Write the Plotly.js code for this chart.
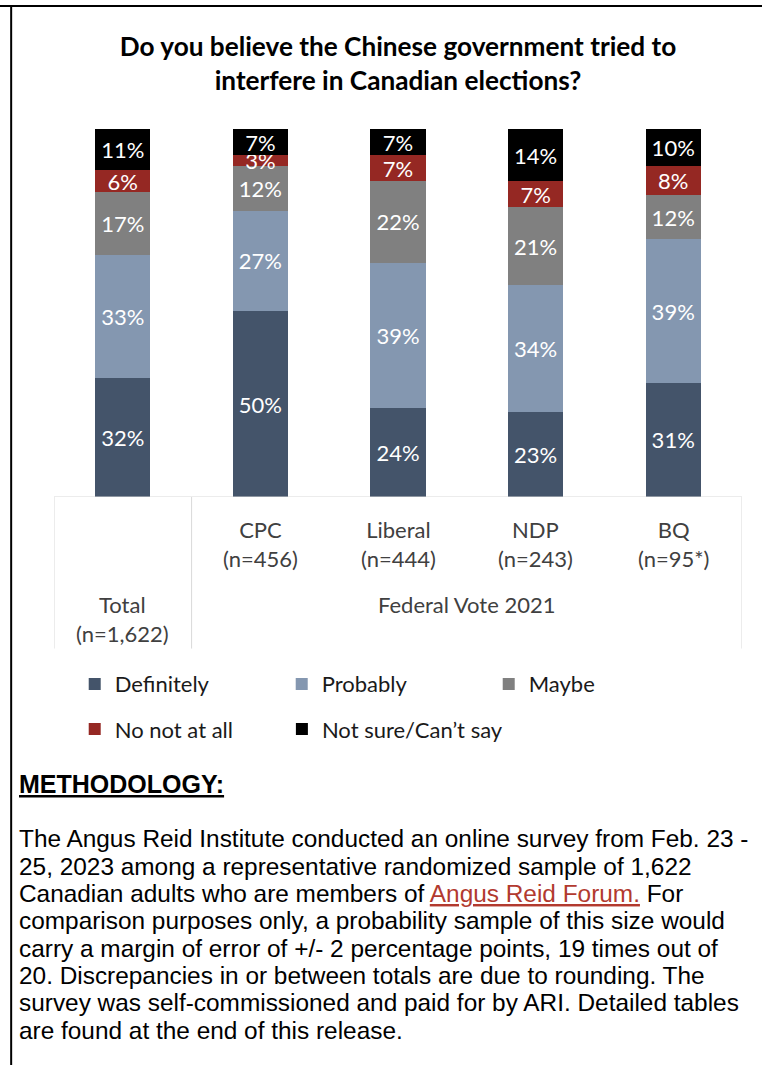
<!DOCTYPE html>
<html>
<head>
<meta charset="utf-8">
<script src="https://cdn.plot.ly/plotly-3.0.1.min.js"></script>
<style>html,body{margin:0;padding:0;background:#fff;}#chart{width:762px;height:1065px;}</style>
</head>
<body>
<div id="chart"></div>
<script>
// ---- data ----
const categories = ['Total', 'CPC', 'Liberal', 'NDP', 'BQ'];
const sampleSizes = ['(n=1,622)', '(n=456)', '(n=444)', '(n=243)', '(n=95*)'];
const groupLabel = 'Federal Vote 2021';
const seriesNames = ['Definitely', 'Probably', 'Maybe', 'No not at all', 'Not sure/Can\u2019t say'];
const definitely = [32, 50, 24, 23, 31];
const probably = [33, 27, 39, 34, 39];
const maybe = [17, 12, 22, 21, 12];
const noNotAtAll = [6, 3, 7, 7, 8];
const notSure = [11, 7, 7, 14, 10];
const titleText = 'Do you believe the Chinese government tried to<br>interfere in Canadian elections?';
const methodologyHeading = 'METHODOLOGY:';
const methodologyLines = [
  'The Angus Reid Institute conducted an online survey from Feb. 23 -',
  '25, 2023 among a representative randomized sample of 1,622',
  'Canadian adults who are members of <span style="color:#b23a2f"><u>Angus Reid Forum.</u></span> For',
  'comparison purposes only, a probability sample of this size would',
  'carry a margin of error of +/- 2 percentage points, 19 times out of',
  '20. Discrepancies in or between totals are due to rounding. The',
  'survey was self-commissioned and paid for by ARI. Detailed tables',
  'are found at the end of this release.'
];

// ---- styling / geometry ----
const W = 762, H = 1065;
const M = {l: 54.3, r: 20.3, t: 129.3, b: 568.3};
const PW = W - M.l - M.r, PH = H - M.t - M.b;
const px = v => (v - M.l) / PW;            // pixel x -> paper x
const py = v => (H - M.b - v) / PH;        // pixel y -> paper y
const colors = ['#44546a', '#8497b0', '#808080', '#952823', '#000000'];
const FONT = 'Lato, "Open Sans", sans-serif';
const seriesValues = [definitely, probably, maybe, noNotAtAll, notSure];
const legendOf = ['legend', 'legend', 'legend', 'legend2', 'legend3'];

const traces = seriesValues.map((vals, i) => ({
  type: 'bar',
  name: seriesNames[i],
  x: categories,
  y: vals,
  text: vals.map(v => v + '%'),
  textposition: 'inside',
  insidetextanchor: 'middle',
  textangle: 0,
  textfont: {family: FONT, size: 22, color: '#ffffff'},
  marker: {color: colors[i], line: {width: 0}},
  width: 0.4,
  hoverinfo: 'skip',
  legend: legendOf[i]
}));

const annotations = [];
categories.forEach((c, i) => {
  annotations.push({
    x: c, xref: 'x', y: i === 0 ? py(619) : py(543.5), yref: 'paper',
    text: c + '<br>' + sampleSizes[i], showarrow: false,
    xanchor: 'center', yanchor: 'middle', align: 'center',
    font: {family: FONT, size: 22, color: '#404040'}
  });
});
annotations.push({
  x: 2.5, xref: 'x', y: py(604), yref: 'paper', text: groupLabel, showarrow: false,
  xanchor: 'center', yanchor: 'middle', font: {family: FONT, size: 22, color: '#404040'}
});
annotations.push({
  x: px(17), xref: 'paper', y: py(783), yref: 'paper', text: '<b><u>' + methodologyHeading + '</u></b>',
  showarrow: false, xanchor: 'left', yanchor: 'middle',
  font: {family: '"Liberation Sans", Arial, sans-serif', size: 25, color: '#000'}
});
methodologyLines.forEach((t, k) => {
  annotations.push({
    x: px(17), xref: 'paper', y: py(838 + 27.3 * k), yref: 'paper', text: t,
    showarrow: false, xanchor: 'left', yanchor: 'middle', align: 'left',
    font: {family: '"Liberation Sans", Arial, sans-serif', size: 24.4, color: '#000'}
  });
});

const gridLine = {color: '#d9d9d9', width: 1};
const shapes = [
  {type: 'line', xref: 'x', yref: 'y', x0: -0.5, x1: 4.5, y0: 0, y1: 0, line: gridLine},
  {type: 'line', xref: 'x', yref: 'paper', x0: -0.5, x1: -0.5, y0: 0, y1: py(648), line: gridLine},
  {type: 'line', xref: 'x', yref: 'paper', x0: 0.5, x1: 0.5, y0: 0, y1: py(648), line: gridLine},
  {type: 'line', xref: 'x', yref: 'paper', x0: 4.5, x1: 4.5, y0: 0, y1: py(648), line: gridLine},
  {type: 'line', xref: 'paper', yref: 'paper', x0: px(0), x1: px(762), y0: py(6.5), y1: py(6.5), line: {color: '#000', width: 2}},
  {type: 'line', xref: 'paper', yref: 'paper', x0: px(11.5), x1: px(11.5), y0: py(6.5), y1: py(1066), line: {color: '#000', width: 2}}
];

const legendCommon = {
  orientation: 'h', xref: 'paper', yref: 'paper', xanchor: 'left', yanchor: 'middle',
  bgcolor: 'rgba(0,0,0,0)', borderwidth: 0,
  font: {family: FONT, size: 22, color: '#1a1a1a'}, traceorder: 'normal'
};

const layout = {
  width: W, height: H,
  margin: M,
  paper_bgcolor: '#ffffff', plot_bgcolor: '#ffffff',
  barmode: 'stack', barnorm: 'percent',
  uniformtext: {mode: 'show', minsize: 22},
  title: {
    text: '<b>' + titleText + '</b>',
    font: {family: FONT, size: 26.2, color: '#000'},
    x: px(398), xref: 'paper', xanchor: 'center',
    y: 1 - 55.5 / H, yref: 'container', yanchor: 'top'
  },
  xaxis: {type: 'category', showticklabels: false, showgrid: false, zeroline: false, showline: false, ticks: '', range: [-0.5, 4.5], fixedrange: true},
  yaxis: {range: [0, 100], showticklabels: false, showgrid: false, zeroline: false, showline: false, ticks: '', fixedrange: true},
  showlegend: true,
  legend: Object.assign({}, legendCommon, {x: px(75), y: py(683.5), entrywidth: 162, entrywidthmode: 'pixels'}),
  legend2: Object.assign({}, legendCommon, {x: px(75), y: py(728.5)}),
  legend3: Object.assign({}, legendCommon, {x: px(75 + 207), y: py(728.5)}),
  annotations: annotations,
  shapes: shapes
};

Plotly.newPlot('chart', traces, layout, {displayModeBar: false, staticPlot: true});
</script>
</body>
</html>
